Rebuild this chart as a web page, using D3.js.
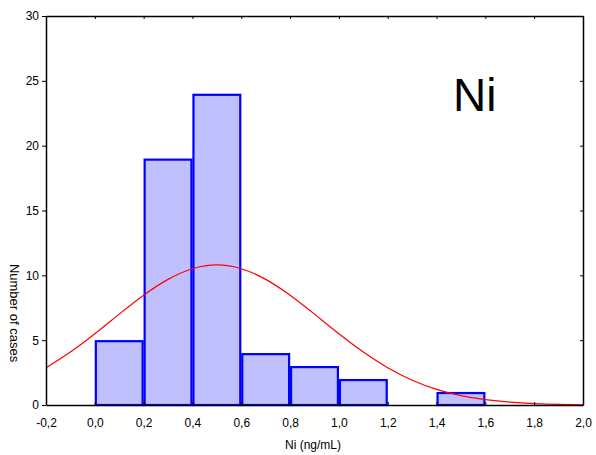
<!DOCTYPE html>
<html><head><meta charset="utf-8">
<script src="https://cdn.jsdelivr.net/npm/d3@7"></script>
<style>body{margin:0;background:#fff}svg{display:block}text{font-family:"Liberation Sans",Arial,sans-serif}</style>
</head><body>
<svg id="c" width="596" height="455"></svg>
<script>
const binStarts = [0.0, 0.2, 0.4, 0.6, 0.8, 1.0, 1.4];
const binEnds   = [0.2, 0.4, 0.6, 0.8, 1.0, 1.2, 1.6];
const counts    = [5, 19, 24, 4, 3, 2, 1];
const curveX = [-0.2,-0.1,0.0,0.1,0.2,0.3,0.4,0.5,0.6,0.7,0.8,0.9,1.0,1.1,1.2,1.3,1.4,1.5,1.6,1.7,1.8,1.9,2.0];
const curveY = [2.87,4.08,5.49,7.01,8.47,9.69,10.51,10.8,10.51,9.69,8.47,7.01,5.49,4.08,2.87,1.91,1.21,0.72,0.41,0.22,0.11,0.05,0.02];
const xTicks = [-0.2,0.0,0.2,0.4,0.6,0.8,1.0,1.2,1.4,1.6,1.8,2.0];
const yTicks = [0,5,10,15,20,25,30];
const title = "Ni";
const xLabel = "Ni (ng/mL)";
const yLabel = "Number of cases";

const svg = d3.select("#c");
const L=46, R=583, T=16, B=405;
const x = d3.scaleLinear().domain([-0.2,2.0]).range([L,R]);
const y = d3.scaleLinear().domain([0,30]).range([B,T]);
const fmt = d => d3.format(".1f")(d).replace(".", ",").replace("−","-");

// bars
svg.append("g").selectAll("rect").data(counts).join("rect")
  .attr("x",(d,i)=>x(binStarts[i])+1)
  .attr("width",(d,i)=>x(binEnds[i])-x(binStarts[i])-2)
  .attr("y",d=>y(d)+1)
  .attr("height",d=>y(0)-y(d)-1)
  .attr("fill","#c0c0ff").attr("stroke","#0000ff").attr("stroke-width",2.2);

// normal curve
const line = d3.line().x((d,i)=>x(curveX[i])).y(d=>y(d)).curve(d3.curveNatural);
svg.append("path").datum(curveY).attr("d",line)
  .attr("fill","none").attr("stroke","#ff0000").attr("stroke-width",1.2);

// axes
const axStyle = g=>{g.select(".domain").attr("stroke","#000").attr("stroke-width",1.5);
  g.selectAll(".tick line").attr("stroke","#000");
  g.selectAll("text").attr("font-size","12px").attr("fill","#000").attr("font-family","Liberation Sans, Arial, sans-serif");};
svg.append("g").attr("transform",`translate(0,${B})`)
  .call(d3.axisBottom(x).tickValues(xTicks).tickFormat(fmt).tickSizeInner(-3).tickSizeOuter(0).tickPadding(13))
  .call(axStyle);
svg.append("g").attr("transform",`translate(0,${T})`)
  .call(d3.axisTop(x).tickValues(xTicks).tickFormat("").tickSizeInner(-3).tickSizeOuter(0))
  .call(axStyle);
svg.append("g").attr("transform",`translate(${L},0)`)
  .call(d3.axisLeft(y).tickValues(yTicks).tickFormat(d3.format("d")).tickSizeInner(4).tickSizeOuter(0).tickPadding(3))
  .call(axStyle);
svg.append("g").attr("transform",`translate(${R},0)`)
  .call(d3.axisRight(y).tickValues(yTicks).tickFormat("").tickSizeInner(-3).tickSizeOuter(0))
  .call(axStyle);

// labels
svg.append("text").attr("x",313).attr("y",449).attr("text-anchor","middle")
  .attr("font-size","12px").text(xLabel);
svg.append("text").attr("transform","translate(10,313) rotate(90)").attr("text-anchor","middle")
  .attr("font-size","13px").text(yLabel);
svg.append("text").attr("x",453).attr("y",111).attr("font-size","46px").text(title);
</script>
</body></html>
